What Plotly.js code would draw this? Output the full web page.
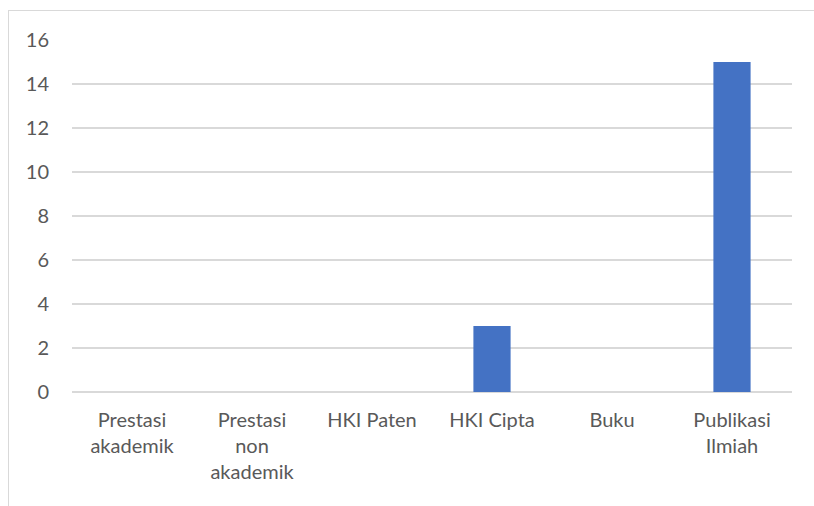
<!DOCTYPE html>
<html>
<head>
<meta charset="utf-8">
<script src="https://cdn.plot.ly/plotly-3.0.1.min.js"></script>
<style>
html,body{margin:0;padding:0;background:#fff;overflow:hidden;width:814px;height:506px;}
#chart{position:absolute;left:0;top:0;width:814px;height:506px;}
#frame{position:absolute;left:8px;top:10px;width:840px;height:540px;border:1.5px solid #d9d9d9;pointer-events:none;}
</style>
</head>
<body>
<div id="chart"></div>
<div id="frame"></div>
<script>
const categories = ["Prestasi akademik", "Prestasi non akademik", "HKI Paten", "HKI Cipta", "Buku", "Publikasi Ilmiah"];
const tickLabels = ["Prestasi<br>akademik", "Prestasi<br>non<br>akademik", "HKI Paten", "HKI Cipta", "Buku", "Publikasi<br>Ilmiah"];
const values = [0, 0, 0, 3, 0, 15];
const yTicks = [0, 2, 4, 6, 8, 10, 12, 14, 16];

const font = {family: "Lato, 'Open Sans', sans-serif", size: 20, color: "#595959"};

Plotly.newPlot("chart", [{
  type: "bar",
  x: categories,
  y: values,
  marker: {color: "#4472c4"},
  width: 0.31,
  hoverinfo: "x+y"
}], {
  width: 814,
  height: 506,
  margin: {l: 72, r: 22, t: 40, b: 114},
  paper_bgcolor: "#ffffff",
  plot_bgcolor: "#ffffff",
  font: font,
  showlegend: false,
  xaxis: {
    type: "category",
    tickmode: "array",
    tickvals: categories,
    ticktext: tickLabels,
    showgrid: false,
    showline: false,
    zeroline: false,
    ticks: "outside",
    ticklen: 10,
    tickcolor: "rgba(0,0,0,0)",
    tickfont: font
  },
  yaxis: {
    range: [0, 16],
    tickmode: "array",
    tickvals: yTicks,
    showgrid: true,
    gridcolor: "#d9d9d9",
    gridwidth: 1.5,
    zeroline: true,
    zerolinecolor: "#d9d9d9",
    zerolinewidth: 1.5,
    showline: false,
    ticks: "outside",
    ticklen: 18,
    tickcolor: "rgba(0,0,0,0)",
    tickfont: font
  }
}, {displayModeBar: false, staticPlot: true});
</script>
</body>
</html>
